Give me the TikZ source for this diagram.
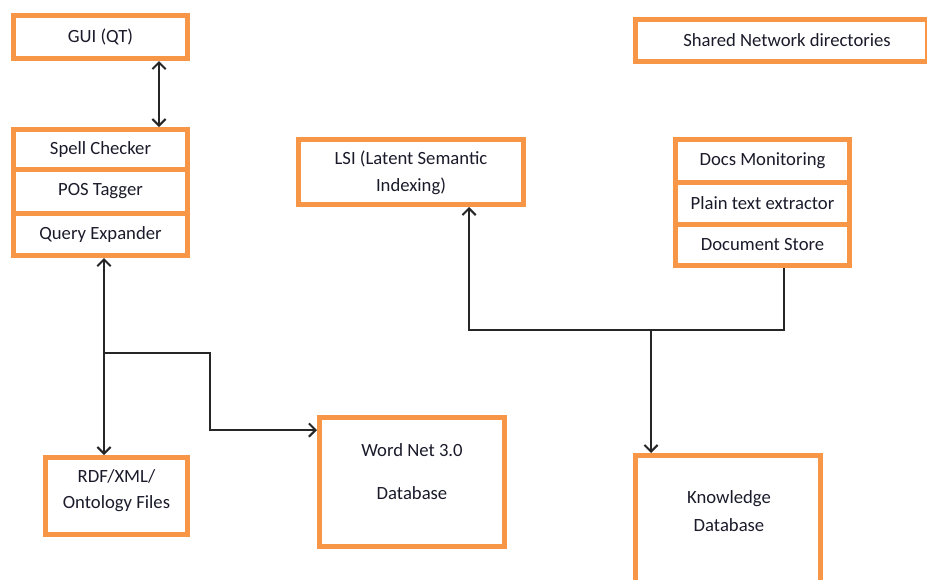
\documentclass[tikz,border=0pt]{standalone}
\usepackage{fontspec}
\setmainfont{Carlito}
\usetikzlibrary{arrows.meta,fit}
\definecolor{boxorange}{HTML}{F79646}
\definecolor{txt}{HTML}{1A1A2A}
\begin{document}
\begin{tikzpicture}[x=0.75pt,y=-0.75pt,
  >={Straight Barb[length=5pt,width=10pt]},
  box/.style={draw=boxorange,line width=3.75pt,inner sep=0pt},
  lbl/.style={font=\fontsize{14}{20}\selectfont,align=center,inner sep=0pt,text=txt},
  conn/.style={line width=1.5pt,draw=black!85},
  thinconn/.style={line width=1pt,draw=black!85}]
\useasboundingbox (0,0) rectangle (927,579);

% boxes
\node[box,fit={(13.5,15.5) (187.5,58.5)}] (gui) {};
\node[box,fit={(13.5,129.5) (187.5,169)}] (spell) {};
\node[box,fit={(13.5,169) (187.5,213)}] (pos) {};
\node[box,fit={(13.5,213) (187.5,255.5)}] (qe) {};
\node[box,fit={(298.5,139.5) (523.5,204.5)}] (lsi) {};
\node[box,fit={(635.5,19.5) (927,61.5)}] (shared) {};
\node[box,fit={(675.5,139.5) (849.5,182)}] (docs) {};
\node[box,fit={(675.5,182) (849.5,224)}] (plain) {};
\node[box,fit={(675.5,224) (849.5,265.5)}] (store) {};
\node[box,fit={(45.5,457.5) (187.5,534.5)}] (rdf) {};
\node[box,fit={(319.5,417.5) (504.5,546.5)}] (wn) {};
\node[box,fit={(635.5,455.5) (820.5,600)}] (kb) {};

% labels
\node[lbl] (tgui) at (gui.center) {GUI (QT)};
\node[lbl] (tspell) at (spell.center) {Spell Checker};
\node[lbl] (tpos) at (pos.center) {POS Tagger};
\node[lbl] (tqe) at (qe.center) {Query Expander};
\node[lbl] (tlsi) at (411,172.5) {LSI (Latent Semantic\\Indexing)};
\node[lbl] (tshared) at (787,40) {Shared Network directories};
\node[lbl] (tdocs) at (docs.center) {Docs Monitoring};
\node[lbl] (tplain) at (plain.center) {Plain text extractor};
\node[lbl] (tstore) at (store.center) {Document Store};
\node[lbl,font=\fontsize{14}{19}\selectfont] (trdf) at (116.5,490.5) {RDF/XML/\\Ontology Files};
\node[lbl,font=\fontsize{14}{32}\selectfont] (twn) at (412,471.5) {Word Net 3.0\\Database};
\node[lbl,font=\fontsize{14}{21}\selectfont] (tkb) at (729,511) {Knowledge\\Database};

% junction coordinates
\coordinate (g) at (159,100);
\coordinate (j1) at (104,353);
\coordinate (b1) at (210,353);
\coordinate (b2) at (210,430);
\coordinate (j2) at (651,330);
\coordinate (l1) at (469,330);
\coordinate (r1) at (784,330);

% connectors
\draw[conn,<->] (gui.south -| g) -- (spell.north -| g);
\draw[conn,->] (j1) -- (qe.south -| j1);
\draw[conn,->] (j1) -- (rdf.north -| j1);
\draw[conn,->] (j1) -- (b1) -- (b2) -- (wn.west |- b2);
\draw[thinconn] (store.south -| r1) -- (r1) -- (j2);
\draw[conn,->] (j2) -- (l1) -- (lsi.south -| l1);
\draw[conn,->] (j2) -- (kb.north -| j2);
\end{tikzpicture}
\end{document}
